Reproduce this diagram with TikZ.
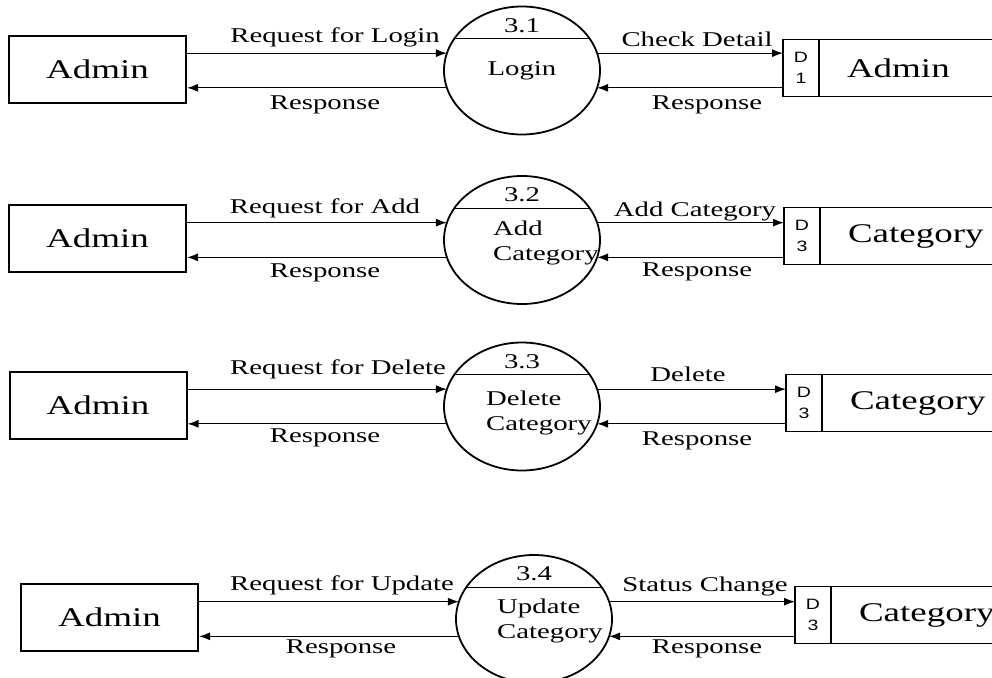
\documentclass[tikz,border=0pt]{standalone}
\usepackage{fontspec}
\setmainfont{Liberation Serif}[FakeStretch=1.37]
\newfontfamily\storeidfont{Liberation Sans}[FakeStretch=1.3]
\usetikzlibrary{arrows.meta,shapes.geometric}

\tikzset{
  entity/.style={draw, line width=2pt, minimum width=177pt, minimum height=67pt, inner sep=0pt, font=\fontsize{27}{30}\selectfont},
  process/.style={draw, ellipse, line width=1.8pt, minimum width=156pt, minimum height=128pt, inner sep=0pt, outer sep=0pt},
  proctext/.style={font=\fontsize{21}{25}\selectfont, align=left, inner sep=0pt},
  store/.style={anchor=west, minimum height=57pt, text width=150pt, align=left, inner xsep=64pt, inner ysep=0pt, outer sep=0pt, font=\fontsize{27}{30}\selectfont},
  storeid/.style={font=\storeidfont\fontsize{15}{21}\selectfont, align=center, inner sep=0pt},
  storeline/.style={line width=1.2pt},
  flow/.style={-{Latex[length=11pt,width=8pt]}, line width=1.2pt},
  flowtext/.style={anchor=base, inner sep=0pt, font=\fontsize{21}{24}\selectfont}
}

\begin{document}
\begin{tikzpicture}[x=1pt, y=-1pt]
\useasboundingbox (0,0) rectangle (992,677);

% 3.1 login
\node[entity] (a1) at (97.5,69.5) {Admin};
\node[process] (p1) at (522,70.5) {};
\node[proctext] (n1) at ([yshift=45pt]p1.center) {3.1};
\node[proctext] (t1) at (p1.center) {Login};
\draw[line width=1pt] (p1.155) -- (p1.25);
\node[store] (d1) at (783,68) {Admin};
\draw[storeline] (d1.north east) -- (d1.north west) -- (d1.south west) -- (d1.south east);
\draw[storeline] ([xshift=36pt]d1.north west) -- ([xshift=36pt]d1.south west);
\node[storeid] (i1) at ([xshift=18pt]d1.west) {D\\1};
\draw[flow] (a1.east |- p1.167) -- (p1.167);
\draw[flow] (p1.193) -- (a1.east |- p1.193);
\draw[flow] (p1.13) -- (d1.west |- p1.13);
\draw[flow] (d1.west |- p1.347) -- (p1.347);
\node[flowtext] (f1a) at (335,43) {Request for Login};
\node[flowtext] (f1b) at (325,109) {Response};
\node[flowtext] (f1c) at (697,47) {Check Detail};
\node[flowtext] (f1d) at (707,109) {Response};

% 3.2 add category
\node[entity] (a2) at (97.5,238) {Admin};
\node[process] (p2) at (522,240) {};
\node[proctext] (n2) at ([yshift=45pt]p2.center) {3.2};
\node[proctext, anchor=west] (t2) at ([xshift=-29pt,yshift=-3pt]p2.center) {Add\\Category};
\draw[line width=1pt] (p2.155) -- (p2.25);
\node[store] (d2) at (784,236) {Category};
\draw[storeline] (d2.north east) -- (d2.north west) -- (d2.south west) -- (d2.south east);
\draw[storeline] ([xshift=36pt]d2.north west) -- ([xshift=36pt]d2.south west);
\node[storeid] (i2) at ([xshift=18pt]d2.west) {D\\3};
\draw[flow] (a2.east |- p2.167) -- (p2.167);
\draw[flow] (p2.193) -- (a2.east |- p2.193);
\draw[flow] (p2.13) -- (d2.west |- p2.13);
\draw[flow] (d2.west |- p2.347) -- (p2.347);
\node[flowtext] (f2a) at (325,213) {Request for Add};
\node[flowtext] (f2b) at (325,277) {Response};
\node[flowtext] (f2c) at (695,216) {Add Category};
\node[flowtext] (f2d) at (697,276) {Response};

% 3.3 delete category
\node[entity] (a3) at (98,405) {Admin};
\node[process] (p3) at (522,406.5) {};
\node[proctext] (n3) at ([yshift=45pt]p3.center) {3.3};
\node[proctext, anchor=west] (t3) at ([xshift=-36pt,yshift=-6pt]p3.center) {Delete\\Category};
\draw[line width=1pt] (p3.155) -- (p3.25);
\node[store] (d3) at (786,403) {Category};
\draw[storeline] (d3.north east) -- (d3.north west) -- (d3.south west) -- (d3.south east);
\draw[storeline] ([xshift=36pt]d3.north west) -- ([xshift=36pt]d3.south west);
\node[storeid] (i3) at ([xshift=18pt]d3.west) {D\\3};
\draw[flow] (a3.east |- p3.167) -- (p3.167);
\draw[flow] (p3.193) -- (a3.east |- p3.193);
\draw[flow] (p3.13) -- (d3.west |- p3.13);
\draw[flow] (d3.west |- p3.347) -- (p3.347);
\node[flowtext] (f3a) at (338,374) {Request for Delete};
\node[flowtext] (f3b) at (325,442) {Response};
\node[flowtext] (f3c) at (688,381) {Delete};
\node[flowtext] (f3d) at (697,445) {Response};

% 3.4 update category
\node[entity] (a4) at (109.5,617.5) {Admin};
\node[process] (p4) at (534,619) {};
\node[proctext] (n4) at ([yshift=45pt]p4.center) {3.4};
\node[proctext, anchor=west] (t4) at ([xshift=-37pt,yshift=-2pt]p4.center) {Update\\Category};
\draw[line width=1pt] (p4.155) -- (p4.25);
\node[store] (d4) at (795,615) {Category};
\draw[storeline] (d4.north east) -- (d4.north west) -- (d4.south west) -- (d4.south east);
\draw[storeline] ([xshift=36pt]d4.north west) -- ([xshift=36pt]d4.south west);
\node[storeid] (i4) at ([xshift=18pt]d4.west) {D\\3};
\draw[flow] (a4.east |- p4.167) -- (p4.167);
\draw[flow] (p4.193) -- (a4.east |- p4.193);
\draw[flow] (p4.13) -- (d4.west |- p4.13);
\draw[flow] (d4.west |- p4.347) -- (p4.347);
\node[flowtext] (f4a) at (342,590) {Request for Update};
\node[flowtext] (f4b) at (341,653) {Response};
\node[flowtext] (f4c) at (705,591) {Status Change};
\node[flowtext] (f4d) at (707,653) {Response};
\end{tikzpicture}
\end{document}
